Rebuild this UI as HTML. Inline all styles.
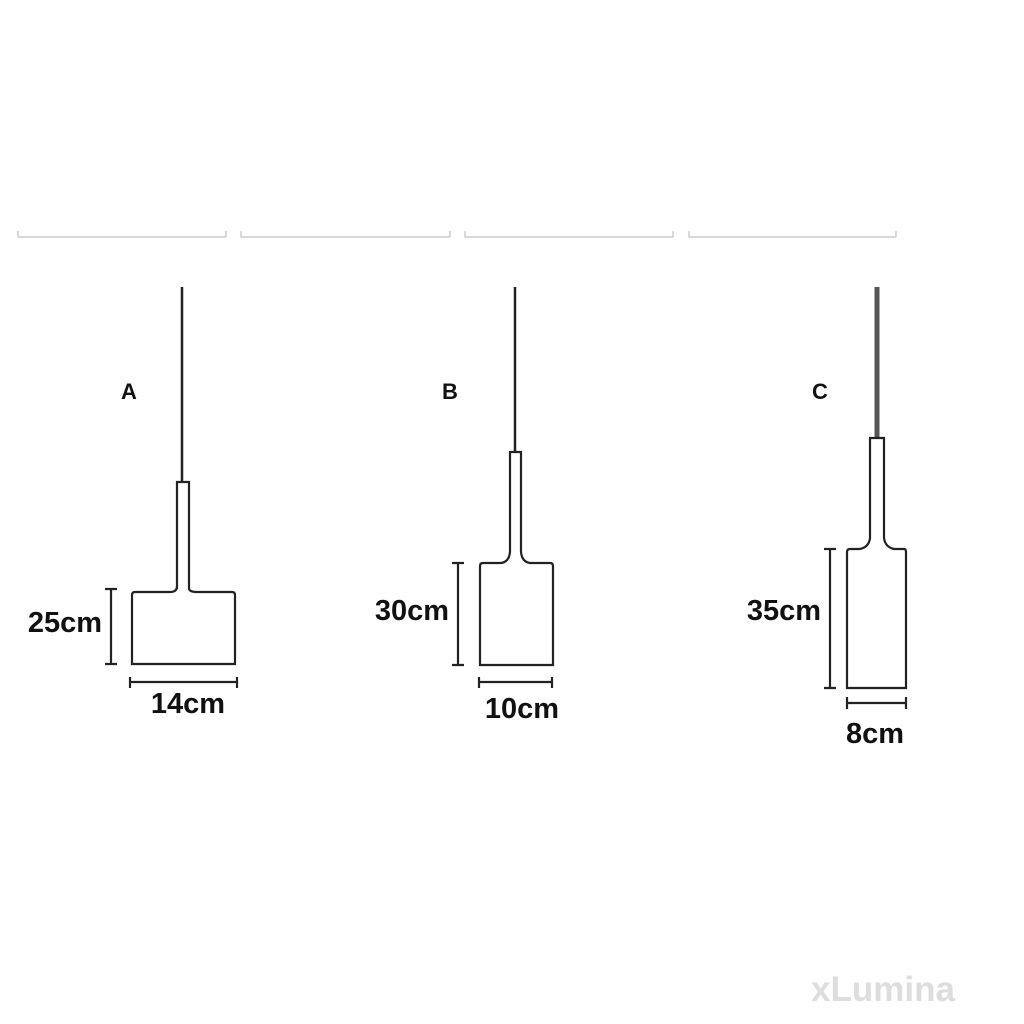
<!DOCTYPE html>
<html><head><meta charset="utf-8"><style>
html,body{margin:0;padding:0;background:#fff;}
svg{display:block;}
text{font-family:"Liberation Sans",sans-serif;font-weight:bold;fill:#111;}
</style></head><body>
<svg width="1024" height="1024" viewBox="0 0 1024 1024" xmlns="http://www.w3.org/2000/svg">
<g stroke="#ccc" stroke-width="1.5" fill="none">
<path d="M18 237H226M18 231V237M226 231V237"/>
<path d="M241 237H450M241 231V237M450 231V237"/>
<path d="M465 237H673M465 231V237M673 231V237"/>
<path d="M689 237H896M689 231V237M896 231V237"/>
</g>
<g fill="none" stroke="#222" stroke-width="2.2">
<line x1="182" y1="287" x2="182" y2="482" stroke-width="2.5"/>
<path d="M177 589V482H189V589Q190 592 197 592H232Q235 592 235 595V664H132V595Q132 592 135 592H170Q177 592 177 586Z"/>
<path d="M105 589H117M111 589V664M105 664H117"/>
<path d="M130 677V688M130 682H237M237 677V688"/>
<line x1="515" y1="287" x2="515" y2="452" stroke-width="2.5"/>
<path d="M510 552V452H521V552Q522 562 530 563H550Q553 563 553 566V665H480V566Q480 563 483 563H501Q509 562 510 552Z"/>
<path d="M452 563H464M458 563V665M452 665H464"/>
<path d="M479 677V688M479 682H552M552 677V688"/>
<line x1="877" y1="287" x2="877" y2="438" stroke="#555" stroke-width="5"/>
<path d="M870 538V438H884V538Q885 547 894 549H904Q906 549 906 552V688H847V552Q847 549 850 549H860Q869 547 870 538Z"/>
<path d="M824 549H836M830 549V688M824 688H836"/>
<path d="M847 697V709M847 703H906M906 697V709"/>
</g>
<text x="129" y="399" font-size="22" text-anchor="middle">A</text>
<text x="450" y="399" font-size="22" text-anchor="middle">B</text>
<text x="820" y="399" font-size="22" text-anchor="middle">C</text>
<text x="65" y="632" font-size="29" text-anchor="middle">25cm</text>
<text x="188" y="713" font-size="29" text-anchor="middle">14cm</text>
<text x="412" y="620" font-size="29" text-anchor="middle">30cm</text>
<text x="522" y="718" font-size="29" text-anchor="middle">10cm</text>
<text x="784" y="620" font-size="29" text-anchor="middle">35cm</text>
<text x="875" y="743" font-size="29" text-anchor="middle">8cm</text>
<text x="883" y="1001" font-size="35" text-anchor="middle" style="fill:#ddd">xLumina</text>
</svg>
</body></html>
